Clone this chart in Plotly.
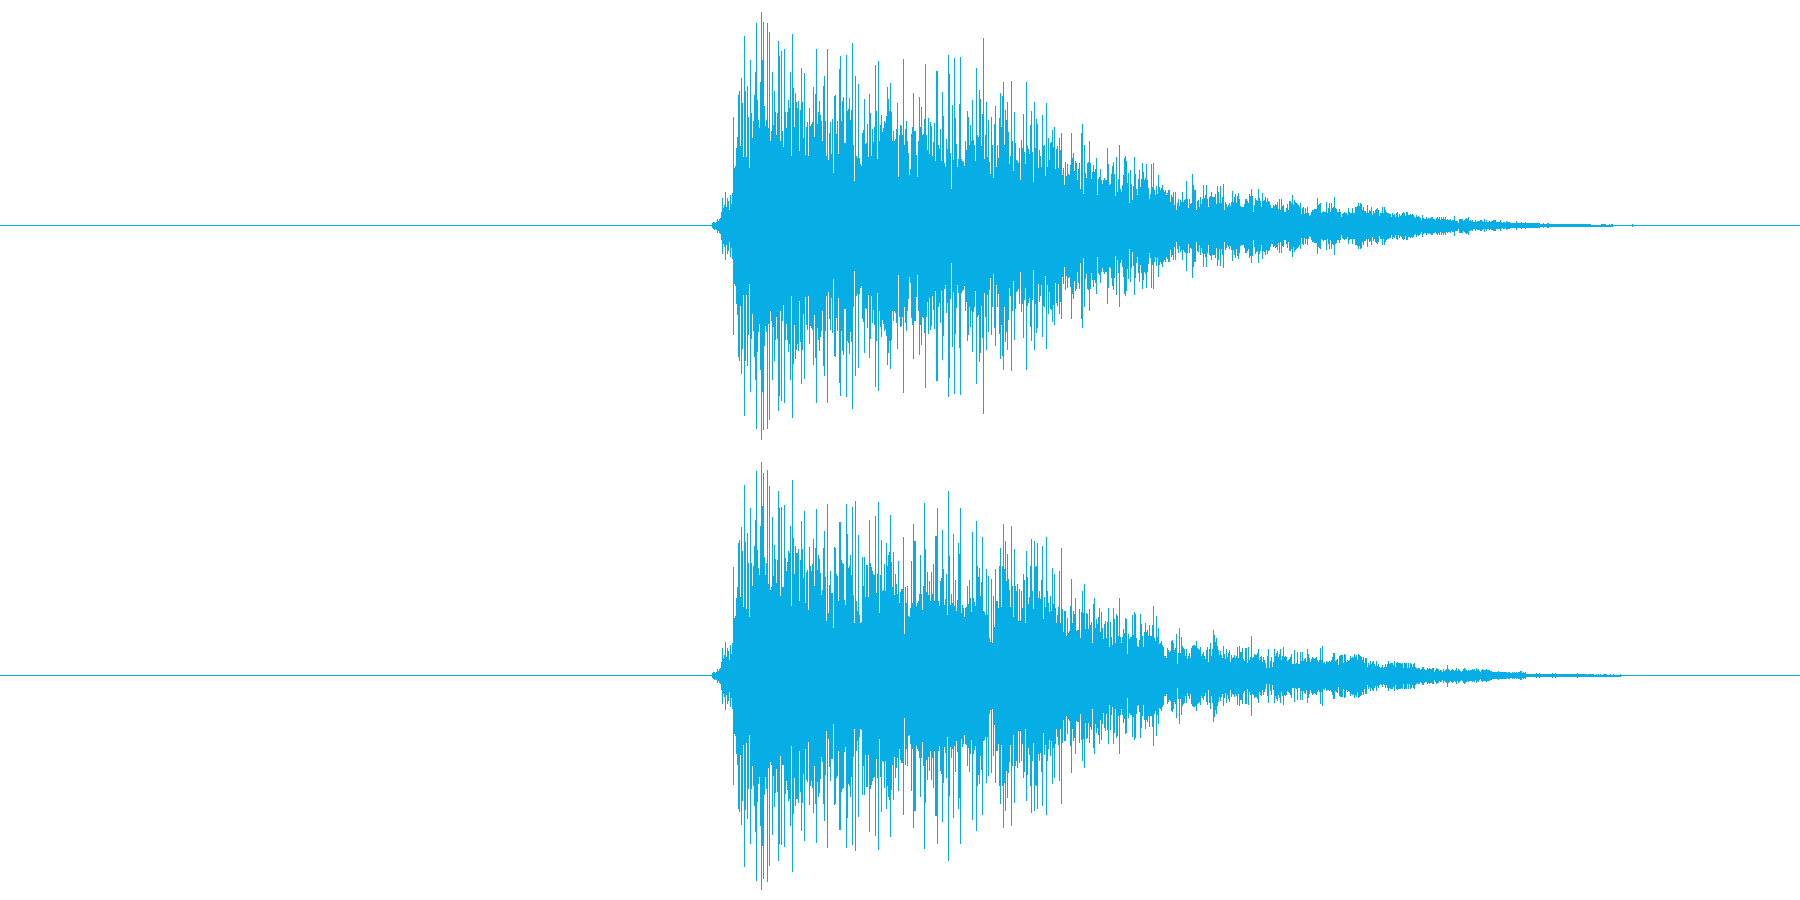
import plotly.graph_objects as go
from plotly.subplots import make_subplots

COLOR = "#07ADE5"

# Peak amplitude of each pixel column (waveform is symmetric about its centre line)
onset = [2.5,3.5,4,3,4,7,5,7,8,14,28,18,21,34,19,28,25,16,31,22,33]

top_attack = [109,58,60,78,89,131,135,80,148,123,69,190,135,69,140,109,58,166,113,88,105,131,154,203,126,106,98,144,214,166,204,120,100,106,203,98,194,85,95,154,101,135,114,91,113,185,170,85,175,95,79,177,114,98,114,126,118,154,70,192,138,99,133,124,118,125,75,116,158,124,88,153,71,99,104,70,118,100,102,104,139,89,132,177,102,114,125,111,105,85,140,150,105,70,177,66,93,104,72,107,53,130,131,92,105,72,157,170,105,125,129,83,83,171,115,117,128,106,116,183,81,45,150,70,68,142,68,62,60,93,96,127,82,83,102,69,132,113,70,97,84,99,161,115,67,165,85,101,111,94,98,105,103]
top_body = [110,139,127,115,143,114,85,95,85,87,97,123,49,91,101,100,91,167,81,97,105,85,73,51,57,92,99,133,95,95,71,49,85,129,99,119,91,92,107,162,91,76,108,72,104,100,70,84,103,65,155,155,81,77,97,65,134,110,63,59,87,77,171,152,73,37,121,66,168,108,82,59,67,122,169,67,65,64,60,85,76,115,109,81,101,85,126,86,81,65,158,91,89,136,127,80,112,188,67,91,124,69,106,64,52,109,81,48,102,120,59,81,68,108]
top_decay = [133,99,130,144,81,116,106,124,94,62,70,145,85,55,114,83,66,65,63,78,46,86,78,112,74,62,144,80,77,72,101,115,74,44,124,78,107,102,58,76,70,59,111,80,81,50,123,59,88,66,83,84,96,79,99,57,77,80,58,88,76,93,51,58,41,64,50,62,52,51,61,93,68,73,55,65,63,46,57,63,37,93,102,32,81,53,48,63,64,85,63,47,54,61,54,57,68,31,47,49,57,46,42,46,48,46,46,78,62,41,42,52,60,64,52,30,69,34,47,81,37,34,41,51,68,70,65,43,53,23,56,42,26,40,69,52,37,31,47,56,39,47,63,54,46,48,62,46,38,27,32,62,39,63,36,31,40,32,51,39,36,38,41,36,34,36,31,33,36,36,24,31,29,34,21,34,16,23,27,20,26,24,34,24,26,27,45,27,18,27,22,23,52,41,36,36,16,25,26,19,29,22,27,41,28,31,41,27,19,29,30,34,29,29,29,32,22,40,34,23,40,23,29,42,16,24,22,19,21,23,20,24,35,24,29,32,23,30,33,27,20,19,19,19,22,27,27,25,23,32,30,37,30,14,21,28,26,25,37,28,25,19,33,25,26,29,24,28,25,24,21,18,18,21,20,22,21,24,17,27,16,27,20,21,14,14,18,22,16,25,25,23,31,21,26,24,23,22,21,19]
top_tail_a = [23,12,18,19,12,18,13,19,13,10,11,14,16,16,17,17,17,28,21,22,23,13,14,15,14,14,24,13,18,23,14,23,18,19,29,18,17,14,14,17,14,9,12,13,14,13,13,11,18,14,13,13,18,13,13,19,19,20,23,20,23,22,16,19,15,15,13,21,13,16,15,19,11,15,13,16,17,18,16,10,13,13,19,13,19,16,14,13,13,12,12,9,13,11,12,9,13,14,9,12,10,11,13,14,13,10,14,14,11,11,12,11,12,11,9,8,11,9,10,9,8,6,11,8,7,7,9,7,8,7,8,9,9,7,7,6,8,9,7,9,6,9,7,9,7,9,6,7,6,6,7,5,6,6,10,5,5,5,3,7,7,7,7,5,6,7,8,7,9,5]
top_tail_b = [5.5,4.5,5.5,3.5,3.5,5.5,3.5,4.5,4.5,4.5,5.5,5.5,4.5,3.5,6.5,3.5,5.5,3.5,3.5,4.5,3.5,4.5,4.5,5.5,5.5,5.5,3.5,3.5,3.5,3.5,5.5,3.5,2.5,3.5,3.5,2.5,4.5,3.5,3.5,3.5,2.5,2.5,2.5,2.5,2.5,2.5,4.5,2.5,2.5,2.5,2.5,3.5,2.5,2.5,2.5,3.5,2.5,2.5,2.5,2.5,2.5,2.5,2.5,2.5,2.5,2.5,2.5,2.5,2.5,2.5,1.5,1.5,1.5,2.5,1.5,1.5,1.5,2.5,2.5,1.5,1.5,1.5,1.5,1.5,1.5,1.5,1.5,1.5,1.5,1.5,1.5,1.5,1.5,1.5,1.5,1.5,1.5,1.5,1.5,1.5,1.5,1.5,1.5,1.5,1.5,1.5,1.5,1.5,1.5,1.5,1.5,1.5,1.5,1.5,1.5,1.5,1.5,1.5,1.5,1.5,1.5,1,1,1,1,1,1,1,1,1,1,1.5,1.5,1.5,1.5,1.5,1,1,1,1.5,1,1.5,1.5,0.5,0.5,0.5,0.5,0.5,0.5,0.5,0.5,0.5,0.5,0.5,0.5,0.5,0.5,0.5,0.5,0.5,0.5,0.5,1.5]

bottom_attack = [109,58,60,78,89,133,136,79,149,125,69,191,134,67,143,113,59,168,113,90,110,130,156,205,126,108,101,150,214,170,203,119,101,113,206,92,190,86,89,159,100,131,117,93,116,185,168,80,169,89,89,171,118,105,114,125,123,150,70,196,138,102,130,123,123,127,75,116,155,127,98,165,73,104,106,66,129,110,105,112,137,90,128,167,106,121,117,103,81,86,128,145,99,55,172,63,91,105,83,83,48,129,128,102,100,75,154,154,116,113,112,76,71,172,142,108,110,121,101,169,81,53,175,75,65,141,61,53,54,119,90,119,79,111,111,79,156,113,109,105,102,101,160,83,102,174,63,101,136,85,86,112,85]
bottom_body = [133,110,121,124,161,114,89,124,81,102,92,82,115,73,84,87,87,139,42,89,73,90,60,59,68,115,73,152,135,135,70,73,75,82,121,82,66,90,173,127,84,104,81,95,75,104,82,112,75,140,140,168,75,70,95,98,146,107,71,77,102,61,185,120,71,82,73,142,70,96,65,76,133,122,168,63,71,68,59,68,69,90,72,96,78,64,144,78,74,70,155,110,99,108,80,94,139,65,64,61,107,61,100,38,34,97,33,80,49,107,75,75,68,110]
bottom_decay = [128,69,110,152,107,135,95,122,97,86,69,150,90,59,127,90,85,92,55,87,55,85,68,102,96,53,125,99,72,79,110,137,85,67,135,109,110,133,78,85,77,96,130,57,79,69,139,85,73,64,80,65,108,72,102,68,53,61,69,105,53,128,67,44,65,65,40,58,43,45,70,97,53,65,62,78,45,46,46,67,38,64,85,63,92,47,63,62,47,67,51,54,33,72,78,48,57,52,59,68,44,64,48,37,52,55,38,54,68,29,54,39,31,68,57,33,62,60,40,78,39,33,39,47,43,58,57,22,42,37,39,39,61,41,64,62,38,30,29,36,62,52,40,29,44,53,44,46,40,51,40,40,51,70,38,35,60,39,48,32,33,35,31,29,20,20,18,28,26,24,25,35,36,33,26,28,42,12,23,48,23,39,30,28,27,20,27,17,20,23,18,28,30,31,31,30,35,28,27,26,29,20,22,24,20,17,26,29,14,27,33,20,27,46,41,34,38,30,26,21,25,21,18,30,22,17,27,19,23,26,14,21,18,19,21,18,20,29,18,30,24,24,28,17,15,28,28,13,29,16,19,40,18,19,22,21,21,23,27,16,19,20,14,19,16,13,8,20,27,8,15,19,9,14,27,20,23,25,19,22,27,16,20,29,19,20,19,15,16,17,19,22,12,12,26,12,13,24,12,12]
bottom_tail_a = [24,15,24,15,17,18,14,27,22,18,14,17,19,18,17,18,19,16,14,16,28,16,30,13,14,12,15,14,14,15,14,16,19,23,23,15,16,17,11,20,21,21,21,13,22,21,14,16,15,16,20,18,19,18,22,19,21,16,22,21,20,19,16,19,13,18,18,9,13,11,15,12,14,15,12,10,15,10,12,9,8,9,11,8,9,12,9,12,15,12,13,13,13,11,15,9,13,14,13,13,13,12,13,8,13,13,13,8,13,8,13,12,9,12,13,9,8,7,8,8,6,7,9,9,7,6,6,8,7,8,7,7,8,8,4,6,8,7,7,5,6,6,4,7,5,6,7,11,7,6,5,6,7,6,5,6,8,5,7,6,5,4,5,7,8,7,6,5,6,5]
bottom_tail_b = [5.5,5.5,6.5,5.5,6.5,4.5,7.5,5.5,6.5,4.5,3.5,5.5,6.5,5.5,5.5,5.5,6.5,5.5,5.5,5.5,4.5,4.5,3.5,3.5,3.5,3.5,3.5,3.5,4.5,3.5,3.5,3.5,3.5,3.5,3.5,3.5,3.5,2.5,3.5,3.5,2.5,2.5,3.5,2.5,3.5,2.5,3.5,2.5,3.5,3.5,4.5,4.5,2.5,3.5,2.5,3.5,1.5,1.5,1.5,1.5,1.5,1.5,1.5,1.5,1.5,1.5,2.5,1.5,1.5,2.5,1.5,1.5,1.5,1.5,1.5,1.5,1.5,1.5,1.5,1.5,1.5,1.5,2.5,1.5,1.5,2.5,1.5,1.5,1.5,1.5,1.5,1.5,1.5,1.5,1.5,1.5,1.5,1.5,1.5,1.5,1.5,1.5,1.5,1.5,1.5,1.5,1.5,2.5,1.5,1.5,1.5,1.5,1.5,1.5,1.5,1.5,1.5,1,1.5,1.5,1.5,1.5,1.5,1.5,1,1,1.5,1,1.5,1,1.5,1,1,1.5,1.5,1.5,1.5,1,1,1,1.5,1,1,1.5,1,1,1,1,1,1,1.5]

# (first pixel column, amplitudes)
top_segments = [(712, onset), (733, top_attack), (886, top_body), (1000, top_decay), (1300, top_tail_a), (1470, top_tail_b)]
bottom_segments = [(712, onset), (733, bottom_attack), (886, bottom_body), (1000, bottom_decay), (1300, bottom_tail_a), (1470, bottom_tail_b)]

fig = make_subplots(rows=2, cols=1, vertical_spacing=0)

for row, segments in ((1, top_segments), (2, bottom_segments)):
    columns, amps = [], []
    for start, values in segments:
        for i, v in enumerate(values):
            columns.append(start + i + 0.5)
            amps.append(v)
    fig.add_trace(go.Scatter(x=[0, 1800], y=[0, 0], mode="lines",
                             line=dict(color=COLOR, width=1), hoverinfo="skip"), row=row, col=1)
    fig.add_trace(go.Bar(x=columns, y=[2 * a for a in amps], base=[-a for a in amps], width=1,
                         marker=dict(color=COLOR, line=dict(width=0)), hoverinfo="skip"), row=row, col=1)

fig.update_xaxes(range=[0, 1800], visible=False, showgrid=False, zeroline=False)
fig.update_yaxes(range=[-224.5, 225.5], visible=False, showgrid=False, zeroline=False)
fig.update_layout(width=1800, height=900, margin=dict(l=0, r=0, t=0, b=0),
                  paper_bgcolor="white", plot_bgcolor="white", showlegend=False,
                  barmode="overlay", bargap=0)
fig.write_html("out.html", config=dict(displayModeBar=False),
               post_script="document.body.style.margin='0';document.body.style.overflow='hidden';")
